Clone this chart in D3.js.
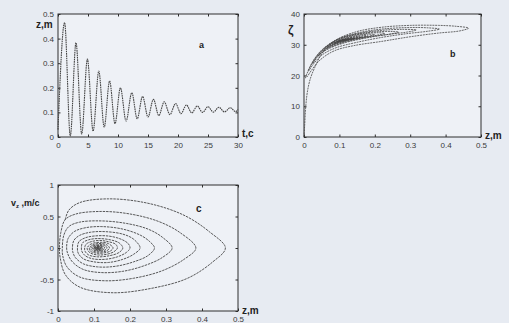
<!DOCTYPE html>
<html><head><meta charset="utf-8">
<script src="https://cdn.jsdelivr.net/npm/d3@7"></script>
<style>
html,body{margin:0;padding:0;background:#e7ebf2;}
svg{display:block;}
text{font-family:"Liberation Sans",Arial,sans-serif;}
</style></head>
<body>
<svg id="chart" width="509" height="323"></svg>
<script>
// ---------- Panel a : z(t), extrema of the damped oscillation ----------
const timeA = [0, 1.1, 2.05, 3.0, 3.95, 4.9, 5.85, 6.8, 7.7, 8.6, 9.5, 10.4, 11.35, 12.3, 13.2, 14.1, 15.0, 15.9, 16.8, 17.7, 18.65, 19.6, 20.5, 21.4, 22.3, 23.2, 24.1, 25.0, 25.9, 26.8, 27.75, 28.7, 29.6, 30];
const zA    = [0.03, 0.465, 0.004, 0.383, 0.012, 0.317, 0.024, 0.268, 0.04, 0.228, 0.054, 0.2, 0.065, 0.18, 0.074, 0.165, 0.081, 0.153, 0.087, 0.143, 0.091, 0.136, 0.095, 0.13, 0.098, 0.126, 0.1, 0.123, 0.101, 0.121, 0.102, 0.119, 0.103, 0.112];
const ticksTA = [0, 5, 10, 15, 20, 25, 30];
const ticksZA = [0, 0.1, 0.2, 0.3, 0.4, 0.5];

// ---------- Panel b : zeta vs z (loops) ----------
const loopsB = [
  [[0,0],[0.002,4],[0.005,10],[0.01,15],[0.018,19],[0.03,22.5]],
  [[0.05,27],[0.09,31.5],[0.15,34.3],[0.22,35.7],[0.3,36.3],[0.38,36.3],[0.43,36],[0.465,35.4],[0.44,34.5],[0.38,33.8],[0.3,32.6],[0.22,31.1],[0.14,29.7],[0.085,28],[0.045,25],[0.02,21.5],[0.008,19.5],[0.004,19.2]],
  [[0.008,20.5],[0.02,23.5],[0.045,27.5],[0.09,31.5],[0.15,33.8],[0.22,35.1],[0.3,35.6],[0.35,35.5],[0.383,35.1],[0.35,34.4],[0.29,33.6],[0.22,32.4],[0.15,30.8],[0.09,29],[0.05,26.6],[0.025,23.5],[0.014,21.6],[0.012,21.4]],
  [[0.016,22.5],[0.03,25.5],[0.055,28.8],[0.1,32],[0.16,33.8],[0.22,34.7],[0.28,35],[0.317,34.8],[0.29,34.1],[0.24,33.4],[0.18,32.3],[0.12,30.8],[0.075,29],[0.045,27],[0.03,24.8],[0.024,23.8]],
  [[0.03,25],[0.05,28],[0.08,30.8],[0.12,32.6],[0.17,33.8],[0.22,34.3],[0.25,34.3],[0.268,34.1],[0.245,33.5],[0.2,32.8],[0.15,31.8],[0.1,30.3],[0.065,28.6],[0.047,27],[0.04,26.2]],
  [[0.045,27],[0.065,29.4],[0.095,31.4],[0.135,32.9],[0.18,33.7],[0.21,33.9],[0.228,33.7],[0.205,33.1],[0.165,32.3],[0.12,31.2],[0.085,30],[0.063,28.8],[0.054,28]],
  [[0.058,28.6],[0.08,30.4],[0.11,31.9],[0.15,33],[0.18,33.4],[0.2,33.3],[0.18,32.7],[0.145,32],[0.11,31],[0.083,30],[0.07,29.2],[0.065,28.9]],
  [[0.07,29.5],[0.09,30.8],[0.12,32],[0.15,32.7],[0.17,33],[0.18,32.9],[0.16,32.4],[0.13,31.7],[0.1,30.8],[0.082,30],[0.074,29.6]],
  [[0.08,30.2],[0.1,31.3],[0.125,32.1],[0.15,32.6],[0.165,32.5],[0.145,32.1],[0.12,31.5],[0.098,30.8],[0.083,30.2],[0.081,30.1]],
  [[0.09,30.8],[0.11,31.6],[0.13,32.1],[0.153,32.3],[0.135,31.9],[0.115,31.4],[0.095,30.8],[0.087,30.5]],
  [[0.095,31.1],[0.115,31.7],[0.135,32],[0.143,32],[0.125,31.7],[0.105,31.2],[0.091,30.8]],
  [[0.1,31.3],[0.12,31.8],[0.136,31.9],[0.12,31.6],[0.1,31.1],[0.095,31]],
  [[0.105,31.4],[0.12,31.7],[0.13,31.8],[0.115,31.5],[0.098,31.2]],
  [[0.108,31.5],[0.126,31.7],[0.11,31.4],[0.1,31.3]],
  [[0.112,31.5],[0.123,31.6],[0.11,31.45],[0.103,31.4]]
];
const ticksZB = [0, 0.1, 0.2, 0.3, 0.4, 0.5];
const ticksZetaB = [0, 10, 20, 30, 40];

// ---------- Panel c : v_z vs z (phase spiral) ----------
const loopsC = [
  [[0.02,0.45],[0.03,0.6],[0.06,0.72],[0.14,0.78],[0.25,0.71],[0.35,0.52],[0.42,0.26],[0.465,0],[0.43,-0.22],[0.36,-0.48],[0.26,-0.64],[0.15,-0.71],[0.06,-0.62],[0.02,-0.42],[0.006,-0.15],[0.004,0]],
  [[0.008,0.25],[0.02,0.45],[0.05,0.54],[0.12,0.58],[0.2,0.54],[0.28,0.42],[0.34,0.24],[0.383,0],[0.35,-0.18],[0.29,-0.36],[0.21,-0.48],[0.13,-0.52],[0.06,-0.46],[0.025,-0.3],[0.013,-0.12],[0.012,0]],
  [[0.016,0.2],[0.03,0.34],[0.06,0.41],[0.12,0.43],[0.19,0.39],[0.25,0.3],[0.29,0.17],[0.317,0],[0.29,-0.15],[0.24,-0.28],[0.18,-0.37],[0.12,-0.39],[0.07,-0.34],[0.04,-0.22],[0.027,-0.09],[0.024,0]],
  [[0.028,0.15],[0.045,0.26],[0.075,0.32],[0.12,0.34],[0.18,0.3],[0.23,0.2],[0.255,0.1],[0.268,0],[0.25,-0.12],[0.21,-0.22],[0.16,-0.29],[0.11,-0.3],[0.07,-0.25],[0.048,-0.15],[0.041,-0.06],[0.04,0]],
  [[0.044,0.12],[0.06,0.2],[0.09,0.25],[0.13,0.26],[0.18,0.22],[0.21,0.14],[0.228,0],[0.21,-0.1],[0.18,-0.18],[0.14,-0.23],[0.1,-0.22],[0.07,-0.17],[0.056,-0.08],[0.054,0]],
  [[0.058,0.1],[0.075,0.16],[0.1,0.19],[0.14,0.19],[0.175,0.14],[0.195,0.07],[0.2,0],[0.19,-0.07],[0.165,-0.14],[0.13,-0.18],[0.095,-0.17],[0.075,-0.12],[0.066,-0.05],[0.065,0]],
  [[0.068,0.08],[0.085,0.13],[0.11,0.15],[0.145,0.13],[0.17,0.08],[0.18,0],[0.17,-0.07],[0.145,-0.12],[0.11,-0.14],[0.085,-0.11],[0.075,-0.05],[0.074,0]],
  [[0.078,0.06],[0.092,0.1],[0.115,0.12],[0.14,0.1],[0.16,0.06],[0.165,0],[0.155,-0.06],[0.135,-0.1],[0.11,-0.11],[0.09,-0.08],[0.082,-0.03],[0.081,0]],
  [[0.088,0.05],[0.1,0.08],[0.12,0.09],[0.14,0.07],[0.153,0],[0.145,-0.05],[0.125,-0.08],[0.105,-0.08],[0.09,-0.05],[0.087,0]],
  [[0.094,0.04],[0.105,0.065],[0.122,0.07],[0.137,0.045],[0.143,0],[0.135,-0.045],[0.118,-0.065],[0.1,-0.055],[0.092,-0.025],[0.091,0]],
  [[0.098,0.035],[0.11,0.052],[0.125,0.05],[0.134,0.025],[0.136,0],[0.13,-0.035],[0.115,-0.05],[0.1,-0.035],[0.095,0]],
  [[0.102,0.03],[0.115,0.04],[0.126,0.03],[0.13,0],[0.124,-0.03],[0.112,-0.038],[0.1,-0.022],[0.098,0]],
  [[0.104,0.022],[0.115,0.03],[0.124,0.018],[0.126,0],[0.12,-0.022],[0.108,-0.025],[0.1,0]],
  [[0.106,0.018],[0.116,0.022],[0.123,0],[0.116,-0.018],[0.105,-0.015],[0.101,0]],
  [[0.108,0.014],[0.118,0.012],[0.121,0],[0.114,-0.013],[0.104,-0.008],[0.102,0]],
  [[0.11,0.01],[0.119,0],[0.112,-0.01],[0.105,0],[0.111,0.006],[0.116,0],[0.111,-0.005],[0.109,0]]
];
const ticksZC = [0, 0.1, 0.2, 0.3, 0.4, 0.5];
const ticksVC = [-1, -0.5, 0, 0.5, 1];

// ---------- drawing ----------
const svg = d3.select("#chart");
const g3 = d3.format("~g");
const fmt = d => g3(d).replace("\u2212", "-");
const AX = "#2e2e2e", LINE = "#454545", TXT = "#3a3a3a";

function frame(x, y, xt, yt){
  const [x0,x1] = x.range(), [y0,y1] = y.range();
  const g = svg.append("g");
  g.append("rect").attr("x",x0).attr("y",y1).attr("width",x1-x0).attr("height",y0-y1)
    .attr("fill","#eef1f6");
  const style = sel => { sel.select(".domain").remove();
    sel.selectAll("line").attr("stroke",AX).attr("stroke-width",1);
    sel.selectAll("text").attr("fill",TXT).style("font-size","8px"); };
  g.append("g").attr("transform",`translate(0,${y0})`)
    .call(d3.axisBottom(x).tickValues(xt).tickSize(-2.5).tickPadding(5).tickFormat(fmt)).call(style);
  g.append("g").attr("transform",`translate(0,${y1})`)
    .call(d3.axisTop(x).tickValues(xt).tickSize(-2.5).tickFormat("")).call(style);
  g.append("g").attr("transform",`translate(${x0},0)`)
    .call(d3.axisLeft(y).tickValues(yt).tickSize(-2.5).tickPadding(4).tickFormat(fmt)).call(style);
  g.append("g").attr("transform",`translate(${x1},0)`)
    .call(d3.axisRight(y).tickValues(yt).tickSize(-2.5).tickFormat("")).call(style);
  g.append("rect").attr("x",x0).attr("y",y1).attr("width",x1-x0).attr("height",y0-y1)
    .attr("fill","none").attr("stroke",AX).attr("stroke-width",1);
  return g;
}
function label(x,y,t,size,weight){
  return svg.append("text").attr("x",x).attr("y",y).attr("fill","#222")
    .style("font-size",size+"px").style("font-weight",weight||"bold").text(t);
}

// Panel a
const xA = d3.scaleLinear().domain([0,30]).range([58,238]);
const yA = d3.scaleLinear().domain([0,0.5]).range([137,14]);
frame(xA,yA,ticksTA,ticksZA);
svg.append("path").datum(timeA.map((t,i)=>[t,zA[i]]))
  .attr("d", d3.line().x(d=>xA(d[0])).y(d=>yA(d[1])).curve(d3.curveMonotoneX))
  .attr("fill","none").attr("stroke",LINE).attr("stroke-width",1.1).attr("stroke-dasharray","1.6,0.7");
label(36,28,"z,m",10);
label(199,48,"a",9);
label(242,137,"t,c",10);

// Panel b
const xB = d3.scaleLinear().domain([0,0.5]).range([304,481]);
const yB = d3.scaleLinear().domain([0,40]).range([137,14]);
frame(xB,yB,ticksZB,ticksZetaB);
svg.append("path").datum(loopsB.flat())
  .attr("d", d3.line().x(d=>xB(d[0])).y(d=>yB(d[1])).curve(d3.curveCatmullRom))
  .attr("fill","none").attr("stroke",LINE).attr("stroke-width",0.8).attr("stroke-dasharray","2,0.8");
label(288,34,"ζ",12);
label(450,57,"b",9);
label(485,139,"z,m",10);

// Panel c
const xC = d3.scaleLinear().domain([0,0.5]).range([58,238]);
const yC = d3.scaleLinear().domain([-1,1]).range([311,185]);
frame(xC,yC,ticksZC,ticksVC);
svg.append("path").datum(loopsC.flat())
  .attr("d", d3.line().x(d=>xC(d[0])).y(d=>yC(d[1])).curve(d3.curveCatmullRom))
  .attr("fill","none").attr("stroke",LINE).attr("stroke-width",0.9).attr("stroke-dasharray","2.5,0.9");
const vl = svg.append("text").attr("x",11).attr("y",206).attr("fill","#222")
  .style("font-size","9px").style("font-weight","bold");
vl.append("tspan").text("v");
vl.append("tspan").attr("dy",2).style("font-size","6px").text("z");
vl.append("tspan").attr("dy",-2).text(" ,m/c");
label(196,212,"c",10);
label(242,314,"z,m",10);
</script>
</body></html>
